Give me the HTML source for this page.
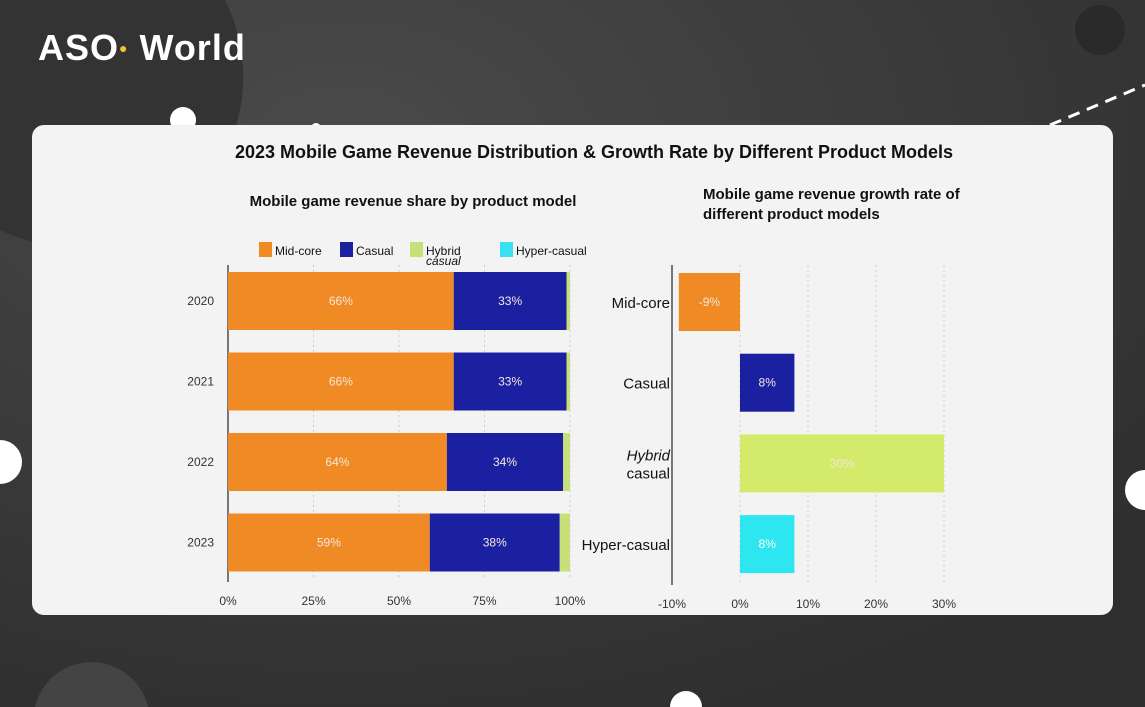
<!DOCTYPE html>
<html style="width:1145px;height:707px;overflow:hidden"><head><meta charset="utf-8"><style>
body{margin:0;width:1145px;height:707px;overflow:hidden;background:#3b3b3b;font-family:"Liberation Sans",sans-serif;position:relative}
svg{display:block}
#bg{position:absolute;left:0;top:0}
#card{position:absolute;left:32px;top:125px;width:1081px;height:490px;background:#f3f3f3;border-radius:12px}
#logo{position:absolute;left:38px;top:28px;color:#fff;font-size:36px;font-weight:bold;letter-spacing:1px;line-height:40px}
#chart{position:absolute;left:0;top:0}
</style></head><body>
<svg id="bg" width="1145" height="707">
<defs><radialGradient id="g" cx="0.3" cy="0.2" r="0.9"><stop offset="0" stop-color="#4a4a4a"/><stop offset="1" stop-color="#2e2e2e"/></radialGradient></defs>
<rect width="1145" height="707" fill="url(#g)"/>
<path d="M0 0 H225 A170 170 0 0 1 0 230 Z" fill="#333"/>
<circle cx="1100" cy="30" r="25" fill="#2a2a2a"/>
<path d="M35 707 A58 58 0 0 1 148 707 Z" fill="#444"/>
<path d="M970 707 A90 90 0 0 1 1145 680 V707 Z" fill="#2f2f2f"/>
<circle cx="183" cy="120" r="13" fill="#fff"/>
<path d="M0 440 A22 22 0 0 1 0 484 Z" fill="#fff"/>
<path d="M1145 470 A20 20 0 0 0 1145 510 Z" fill="#fff"/>
<path d="M670 707 A16 16 0 0 1 702 707 Z" fill="#fff"/>
<circle cx="316" cy="128" r="5" fill="#fff"/>
<path d="M1050 125 L1145 85" stroke="#fff" stroke-width="3" stroke-dasharray="12 8"/>
</svg>
<div id="logo">ASO<span style="color:#f2c230;font-size:14px;vertical-align:top">●</span> World</div>
<div id="card"></div>
<svg id="chart" width="1145" height="707"></svg>
<script>
const years=["2020","2021","2022","2023"];
const midcore=[66,66,64,59];
const casual=[33,33,34,38];
const hybrid=[1,1,2,3];
const models=["Mid-core","Casual","Hybrid casual","Hyper-casual"];
const growth=[-9,8,30,8];
const shareTicks=[0,25,50,75,100];
const growthTicks=[-10,0,10,20,30];
const NS="http://www.w3.org/2000/svg";
const svg=document.getElementById('chart');
function el(t,a,txt){const e=document.createElementNS(NS,t);for(const k in a)e.setAttribute(k,a[k]);if(txt!=null)e.textContent=txt;svg.appendChild(e);return e;}
const xs=v=>228+v*3.42;
const xg=v=>740+v*6.8;
let t;
t=el('text',{x:594,y:158,'text-anchor':'middle','font-size':18,'font-weight':'bold',fill:'#111'},"2023 Mobile Game Revenue Distribution & Growth Rate by Different Product Models");

t=el('text',{x:413,y:206,'text-anchor':'middle','font-size':15,'font-weight':'bold',fill:'#111'},"Mobile game revenue share by product model");

t=el('text',{x:703,y:199,'font-size':15,'font-weight':'bold',fill:'#111'},"Mobile game revenue growth rate of");

el('text',{x:703,y:219,'font-size':15,'font-weight':'bold',fill:'#111'},"different product models");
const leg=[["#ef8a25","Mid-core",259],["#1b20a0","Casual",340],["#c8e07a","Hybrid",410],["#38e0f0","Hyper-casual",500]];
leg.forEach(l=>{const r=el('rect',{x:l[2],y:242,width:13,height:15,fill:l[0]});
const tx=el('text',{x:l[2]+16,y:255,'font-size':12,fill:'#111'},l[1]);});
el('text',{x:426,y:265,'font-size':12,'font-style':'italic',fill:'#111'},"casual");
shareTicks.forEach(v=>{const g=el('line',{x1:xs(v),x2:xs(v),y1:265,y2:580,stroke:'#ccc','stroke-dasharray':'2 3'});
const tx=el('text',{x:xs(v),y:605,'text-anchor':'middle','font-size':12,fill:'#333'},v+"%");});
el('line',{x1:228,x2:228,y1:265,y2:582,stroke:'#777','stroke-width':2});
years.forEach((y,i)=>{const top=272+i*80.5,h=58;
const yl=el('text',{x:214,y:top+h/2+4,'text-anchor':'end','font-size':12,fill:'#333'},y);
let x0=0;[[midcore[i],'#ef8a25'],[casual[i],'#1b20a0'],[hybrid[i],'#c8e07a']].forEach((s,j)=>{
const r=el('rect',{x:xs(x0),y:top,width:xs(x0+s[0])-xs(x0),height:h,fill:s[1]});
if(j<2){const tx=el('text',{x:(xs(x0)+xs(x0+s[0]))/2,y:top+h/2+4,'text-anchor':'middle','font-size':12,fill:'#f4e8dc'},s[0]+"%");}
x0+=s[0];});});
growthTicks.forEach(v=>{const g=el('line',{x1:xg(v),x2:xg(v),y1:265,y2:585,stroke:'#ccc','stroke-dasharray':'2 3'});
const tx=el('text',{x:xg(v),y:608,'text-anchor':'middle','font-size':12,fill:'#333'},v+"%");});
el('line',{x1:xg(-10),x2:xg(-10),y1:265,y2:585,stroke:'#777','stroke-width':2});
const gc=['#ef8a25','#1b20a0','#d4ea6a','#2ee6f0'];
const gl=[["Mid-core"],["Casual"],["Hybrid","casual"],["Hyper-casual"]];
models.forEach((m,i)=>{const top=273+i*80.7,h=58;
const a=Math.min(xg(0),xg(growth[i])),b=Math.max(xg(0),xg(growth[i]));
const r=el('rect',{x:a,y:top,width:b-a,height:h,fill:gc[i]});
const tx=el('text',{x:(a+b)/2,y:top+h/2+4,'text-anchor':'middle','font-size':12,fill:i==3?'#fff':'#f4e8dc'},growth[i]+"%");
gl[i].forEach((s,k)=>{const c=el('text',{x:670,y:top+h/2+6+(gl[i].length>1?(k-0.5)*18:0),'text-anchor':'end','font-size':15,fill:'#111','font-style':(i==2&&k==0)?'italic':'normal'},s);});});
</script>
</body></html>
